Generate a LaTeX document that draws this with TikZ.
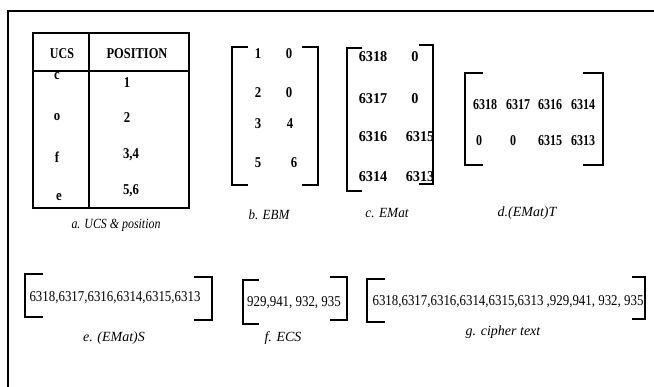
\documentclass[tikz,border=0pt]{standalone}
\usepackage{fontspec}
\setmainfont{Liberation Serif}
\usepackage{graphicx}
\newcommand{\sq}[2][0.85]{\scalebox{#1}[1]{#2}}
\begin{document}
\begin{tikzpicture}[x=1pt,y=-1pt,
  frame/.style={line width=2.4pt},
  brk/.style={line width=2pt},
  tline/.style={line width=1.8pt},
  bt/.style={font=\bfseries\fontsize{15}{18}\selectfont, inner sep=0pt},
  rt/.style={font=\fontsize{15}{18}\selectfont, inner sep=0pt},
  captext/.style={font=\itshape\fontsize{14}{17}\selectfont, inner sep=0pt}]
\useasboundingbox (0,0) rectangle (654,387);
% outer frame (top and left only)
\draw[frame] (654,11) -- (8,11) -- (8,387);

% a. table
\draw[tline] (33,33) rectangle (189,208);
\draw[tline] (33,71) -- (189,71);
\draw[tline] (89,33) -- (89,208);
\node[bt] (hu) at (62,54) {\sq[0.8]{UCS}};
\node[bt] (hp) at (137,54) {\sq[0.83]{POSITION}};
\node[bt] (c1) at (57,76) {\sq{c}};
\node[bt] (p1) at (127,83) {\sq{1}};
\node[bt] (c2) at (57,117) {\sq{o}};
\node[bt] (p2) at (127,118) {\sq{2}};
\node[bt] (c3) at (57,157) {\sq{f}};
\node[bt] (p3) at (131,155) {\sq{3,4}};
\node[bt] (c4) at (59,197) {\sq{e}};
\node[bt] (p4) at (131,191) {\sq{5,6}};
\node[captext] (capa) at (116,225) {\sq[0.85]{a. UCS \& position}};

% b. EBM
\draw[brk] (248,47) -- (232,47) -- (232,185) -- (248,185);
\draw[brk] (302,47) -- (318,47) -- (318,185) -- (302,185);
\node[bt] (b11) at (258,54) {\sq{1}};
\node[bt] (b12) at (289,54) {\sq{0}};
\node[bt] (b21) at (258,93) {\sq{2}};
\node[bt] (b22) at (289,93) {\sq{0}};
\node[bt] (b31) at (258,124) {\sq{3}};
\node[bt] (b32) at (290,124) {\sq{4}};
\node[bt] (b41) at (258,163) {\sq{5}};
\node[bt] (b42) at (294,163) {\sq{6}};
\node[captext] (capb) at (269,215) {\sq[0.93]{b. EBM}};

% c. EMat
\draw[brk] (362,48) -- (347,48) -- (347,191) -- (362,191);
\draw[brk] (419,45) -- (433,45) -- (433,184) -- (419,184);
\node[bt] (c11) at (373,57) {\sq[0.95]{6318}};
\node[bt] (c12) at (415,57) {\sq[0.95]{0}};
\node[bt] (c21) at (373,99) {\sq[0.95]{6317}};
\node[bt] (c22) at (415,99) {\sq[0.95]{0}};
\node[bt] (c31) at (373,137) {\sq[0.95]{6316}};
\node[bt] (c32) at (420,137) {\sq[0.95]{6315}};
\node[bt] (c41) at (373,177) {\sq[0.95]{6314}};
\node[bt] (c42) at (420,177) {\sq[0.95]{6313}};
\node[captext] (capc) at (387,213) {\sq[0.95]{c. EMat}};

% d. (EMat)T
\draw[brk] (483,73) -- (465,73) -- (465,165) -- (483,165);
\draw[brk] (583,73) -- (603,73) -- (603,165) -- (583,165);
\node[bt] (d11) at (485,105) {\sq[0.8]{6318}};
\node[bt] (d12) at (518,105) {\sq[0.8]{6317}};
\node[bt] (d13) at (550,105) {\sq[0.8]{6316}};
\node[bt] (d14) at (583,105) {\sq[0.8]{6314}};
\node[bt] (d21) at (479,141) {\sq[0.8]{0}};
\node[bt] (d22) at (513,141) {\sq[0.8]{0}};
\node[bt] (d23) at (550,141) {\sq[0.8]{6315}};
\node[bt] (d24) at (583,141) {\sq[0.8]{6313}};
\node[captext] (capd) at (527,213) {d.(EMat)T};

% e. (EMat)S
\draw[brk] (43,274) -- (25,274) -- (25,317) -- (43,317);
\draw[brk] (194,277) -- (212,277) -- (212,320) -- (194,320);
\node[rt] (e) at (115,298) {\sq[0.86]{6318,6317,6316,6314,6315,6313}};
\node[captext] (cape) at (114,338) {e. (EMat)S};

% f. ECS
\draw[brk] (259,280) -- (243,280) -- (243,324) -- (259,324);
\draw[brk] (330,277) -- (347,277) -- (347,320) -- (330,320);
\node[rt] (f) at (294,303) {\sq[0.86]{929,941, 932, 935}};
\node[captext] (capf) at (283,338) {f. ECS};

% g. cipher text
\draw[brk] (385,279) -- (367,279) -- (367,322) -- (385,322);
\draw[brk] (632,277) -- (645,277) -- (645,319) -- (632,319);
\node[rt] (g) at (508,302) {\sq[0.86]{6318,6317,6316,6314,6315,6313 ,929,941, 932, 935}};
\node[captext] (capg) at (503,332) {g. cipher text};
\end{tikzpicture}
\end{document}
